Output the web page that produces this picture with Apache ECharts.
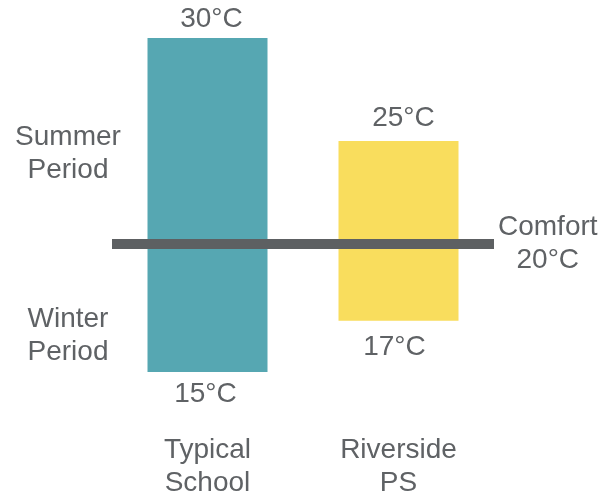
<!DOCTYPE html>
<html>
<head>
<meta charset="utf-8">
<script src="https://cdn.jsdelivr.net/npm/echarts@6/dist/echarts.min.js"></script>
<style>
  html, body { margin: 0; padding: 0; background: #ffffff; }
  #chart { width: 606px; height: 502px; }
</style>
</head>
<body>
<div id="chart"></div>
<script>
// Indoor temperature ranges for each school, split at the comfort temperature
const categories = ['Typical\nSchool', 'Riverside\nPS'];
const summerHigh = [30, 25];
const winterLow = [15, 17];
const comfortTemp = 20;
const zoneLabels = ['Summer\nPeriod', 'Winter\nPeriod'];

const barColors = ['#56a7b2', '#f9dd5d'];
const textColor = '#5f6265';
const lineColor = '#5d6062';
const FONT = '"Liberation Sans", Arial, sans-serif';
const FS = 28;
const LH = 33;

// label placement per bar: gap from the bar end and a small sideways nudge
const topLabelGap = [2, 6];
const topLabelShift = [4, 5];
const bottomLabelGap = [6, 10];
const bottomLabelShift = [-2, -4];

const gridLeft = 112;
const gridWidth = 382;
const topY = 38;
const midY = 244;
const bottomY = 372;

const chart = echarts.init(document.getElementById('chart'), null, { renderer: 'canvas' });

const baseText = { fontFamily: FONT, fontSize: FS, lineHeight: LH, color: textColor };

const option = {
  animation: false,
  backgroundColor: '#ffffff',
  grid: [
    { left: gridLeft, width: gridWidth, top: topY, height: midY - topY },
    { left: gridLeft, width: gridWidth, top: midY, height: bottomY - midY }
  ],
  xAxis: [
    { type: 'category', gridIndex: 0, data: categories, show: false },
    {
      type: 'category', gridIndex: 1, data: categories,
      axisLine: { show: false }, axisTick: { show: false },
      axisLabel: Object.assign({ margin: 62 }, baseText)
    }
  ],
  yAxis: [
    { type: 'value', gridIndex: 0, min: comfortTemp, max: Math.max(...summerHigh), show: false, splitLine: { show: false } },
    { type: 'value', gridIndex: 1, min: Math.min(...winterLow), max: comfortTemp, show: false, splitLine: { show: false } }
  ],
  series: [
    // summer range: from the comfort temperature up to the summer high
    {
      type: 'bar', xAxisIndex: 0, yAxisIndex: 0, barWidth: 120, z: 3,
      clip: true,
      data: summerHigh.map((v, i) => ({
        value: v,
        itemStyle: { color: barColors[i] },
        label: { distance: topLabelGap[i], offset: [topLabelShift[i], 0] }
      })),
      label: Object.assign({ show: true, position: 'top', formatter: p => p.value + '°C' }, baseText),
      markLine: {
        silent: true,
        symbol: ['none', 'none'],
        z: 10,
        lineStyle: { color: lineColor, width: 10, type: 'solid' },
        label: {
          show: true,
          position: 'end',
          distance: 4,
          formatter: p => '{a|Comfort}\n{a|' + p.value + '°C}',
          rich: { a: Object.assign({ align: 'center' }, baseText) }
        },
        data: [{ yAxis: comfortTemp }]
      }
    },
    // winter range: invisible base up to the winter low, then the visible part to comfort
    {
      type: 'bar', xAxisIndex: 1, yAxisIndex: 1, barWidth: 120, stack: 'winter', z: 2,
      itemStyle: { color: 'rgba(0,0,0,0)' },
      data: winterLow.slice()
    },
    {
      type: 'bar', xAxisIndex: 1, yAxisIndex: 1, barWidth: 120, stack: 'winter', z: 2,
      data: winterLow.map((v, i) => ({
        value: comfortTemp - v,
        itemStyle: { color: barColors[i] },
        label: { distance: bottomLabelGap[i], offset: [bottomLabelShift[i], 0] }
      })),
      label: Object.assign({ show: true, position: 'bottom', formatter: p => winterLow[p.dataIndex] + '°C' }, baseText)
    }
  ],
  // zone captions, centred horizontally
  graphic: [
    { text: zoneLabels[0], cy: 154 },
    { text: zoneLabels[1], cy: 336 }
  ].map(z => ({
    type: 'text',
    x: 68, y: z.cy,
    style: {
      text: z.text,
      fontFamily: FONT, fontSize: FS, lineHeight: LH,
      fill: textColor,
      align: 'center', verticalAlign: 'middle'
    }
  }))
};

chart.setOption(option);
</script>
</body>
</html>
